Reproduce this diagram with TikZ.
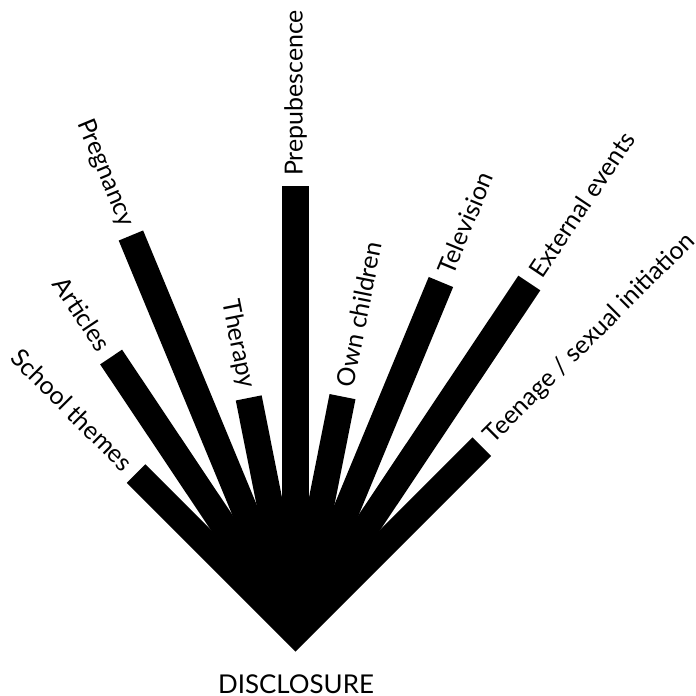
\documentclass[tikz,border=0pt]{standalone}
\usepackage{fontspec}
\setmainfont{Lato}

\begin{document}
\begin{tikzpicture}[scale=0.3528]
\tikzstyle{every node}+=[inner sep=0pt]
\tikzstyle{bar}=[black, line width=26.5pt]
\tikzstyle{rlabel}=[anchor=west, inner xsep=10pt, font=\fontsize{25}{29}\selectfont]
\tikzstyle{llabel}=[anchor=east, inner xsep=10pt, font=\fontsize{25}{29}\selectfont]
\useasboundingbox (0,0) rectangle (69.5,-69.6);
%hub
\coordinate (hub) at (29.55,-63.3);
%left bars
\coordinate (school) at (13.61,-47.36);
\coordinate (articles) at (11.11,-35.70);
\coordinate (pregnancy) at (13.09,-23.55);
\coordinate (therapy) at (24.87,-39.79);
%middle bar
\coordinate (prepub) at (29.55,-18.6);
%right bars
\coordinate (ownchild) at (34.25,-39.66);
\coordinate (television) at (44.09,-28.20);
\coordinate (external) at (52.93,-28.30);
\coordinate (teenage) at (48.18,-44.67);

\draw [bar, line join=miter] (school) -- (hub) -- (teenage);
\draw [bar] (articles) -- (hub);
\draw [bar] (pregnancy) -- (hub);
\draw [bar] (therapy) -- (hub);
\draw [bar] (prepub) -- (hub);
\draw [bar] (ownchild) -- (hub);
\draw [bar] (television) -- (hub);
\draw [bar] (external) -- (hub);

\node [llabel, rotate=-45] (schoollbl) at (school) {School themes};
\node [llabel, rotate=-56.25] (articleslbl) at (articles) {Articles};
\node [llabel, rotate=-67.5] (pregnancylbl) at (pregnancy) {Pregnancy};
\node [llabel, rotate=-78.75] (therapylbl) at (therapy) {Therapy};
\node [rlabel, rotate=90] (prepublbl) at (prepub) {Prepubescence};
\node [rlabel, rotate=78.75] (ownchildlbl) at (ownchild) {Own children};
\node [rlabel, rotate=67.5] (televisionlbl) at (television) {Television};
\node [rlabel, rotate=56.25] (externallbl) at (external) {External events};
\node [rlabel, rotate=45] (teenagelbl) at (teenage) {Teenage / sexual initiation};

\node [anchor=base, font=\fontsize{26}{30}\selectfont] (disclosure) at (29.6,-69.3) {DISCLOSURE};
\end{tikzpicture}
\end{document}
